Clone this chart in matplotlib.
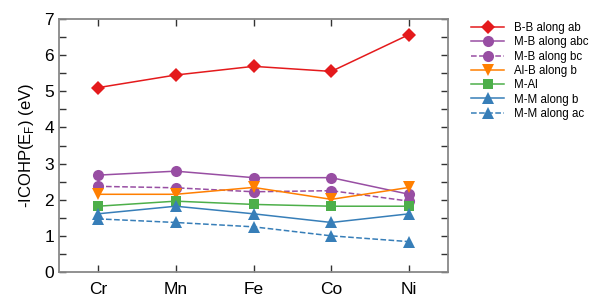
import matplotlib
matplotlib.use("Agg")
import matplotlib.pyplot as plt
from matplotlib.ticker import MultipleLocator

plt.rcParams['font.family'] = ['Liberation Sans', 'DejaVu Sans']

metals = ["Cr", "Mn", "Fe", "Co", "Ni"]
bb_ab = [5.10, 5.45, 5.69, 5.55, 6.57]
mb_abc = [2.68, 2.79, 2.61, 2.61, 2.15]
mb_bc = [2.37, 2.33, 2.22, 2.25, 1.96]
alb_b = [2.15, 2.15, 2.34, 2.01, 2.34]
m_al = [1.82, 1.96, 1.87, 1.82, 1.82]
mm_b = [1.61, 1.82, 1.61, 1.37, 1.61]
mm_ac = [1.47, 1.37, 1.25, 1.00, 0.84]

series = [
    ("B-B along ab", bb_ab, "#e41a1c", "D", "-", 7),
    ("M-B along abc", mb_abc, "#984ea3", "o", "-", 8),
    ("M-B along bc", mb_bc, "#984ea3", "o", "--", 8),
    ("Al-B along b", alb_b, "#ff7f00", "v", "-", 8),
    ("M-Al", m_al, "#4daf4a", "s", "-", 7),
    ("M-M along b", mm_b, "#377eb8", "^", "-", 8),
    ("M-M along ac", mm_ac, "#377eb8", "^", "--", 8),
]

fig = plt.figure(figsize=(6.1, 3.05), dpi=100)
ax = fig.add_axes([59/610, 1-272/305, (448-59)/610, (272-19)/305])
x = list(range(len(metals)))
for label, vals, c, m, ls, ms in series:
    ax.plot(x, vals, color=c, marker=m, linestyle=ls, markersize=ms, lw=1.1,
            label=label, markeredgewidth=0)

ax.set_xlim(-0.5, 4.5)
ax.set_ylim(0, 7)
ax.set_xticks(x)
ax.set_xticklabels(metals)
ax.yaxis.set_major_locator(MultipleLocator(1))
ax.yaxis.set_minor_locator(MultipleLocator(0.5))
ax.tick_params(axis='both', which='both', direction='in', top=True, right=True,
               colors='#333333', labelcolor='black', labelsize=12.5)
ax.tick_params(axis='both', which='major', length=5, width=1)
ax.tick_params(axis='y', which='minor', length=5, width=1)
ax.tick_params(axis='x', which='major', pad=7)
for s in ax.spines.values():
    s.set_color('#888888')
    s.set_linewidth(1.3)
ax.set_ylabel("-ICOHP(E$_\\mathregular{F}$) (eV)", fontsize=12, labelpad=6)

leg = ax.legend(loc='upper left', bbox_to_anchor=(471/610, 1-22/305),
                bbox_transform=fig.transFigure, frameon=False, fontsize=8.3,
                handlelength=2.9, labelspacing=0.2, handletextpad=0.8,
                borderaxespad=0, borderpad=0)
fig.savefig("out.png", dpi=100)
